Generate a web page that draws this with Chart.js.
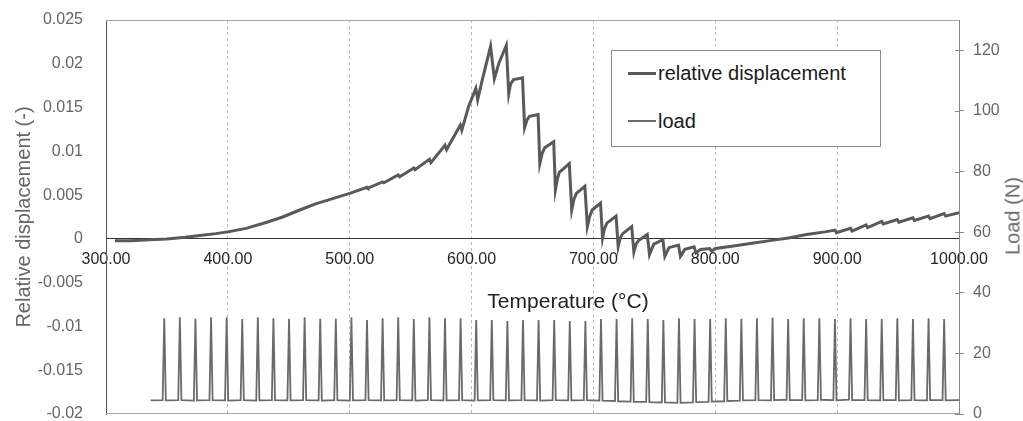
<!DOCTYPE html>
<html>
<head>
<meta charset="utf-8">
<script src="https://cdn.jsdelivr.net/npm/chart.js@4.4.1/dist/chart.umd.min.js"></script>
<style>
  body { margin: 0; background: #fff; }
  #wrap { position: relative; width: 1023px; height: 421px; font-family: "Liberation Sans", Arial, sans-serif; }
  #chart { position: absolute; left: 0; top: 0; }
  .legend { position: absolute; left: 611px; top: 50px; width: 268px; height: 95px; border: 1px solid #8c8c8c; background: #fff; }
  .row { position: absolute; left: 16px; height: 24px; display: flex; align-items: center; font-size: 20px; color: #1a1a1a; white-space: nowrap; }
  .swatch { display: inline-block; width: 28px; margin-right: 2px; }
  .xtitle { position: absolute; left: 568px; top: 301px; transform: translate(-50%, -50%); font-size: 21px; color: #222; white-space: nowrap; }
  .ytitle2 { position: absolute; left: 1013px; top: 216px; transform: translate(-50%, -50%) rotate(-90deg); font-size: 20px; color: #666; white-space: nowrap; }
</style>
</head>
<body>
<div id="wrap">
  <canvas id="chart" width="1023" height="421"></canvas>
  <div class="legend">
    <div class="row" style="top: 10px;"><span class="swatch" style="border-top: 3px solid #595959;"></span>relative displacement</div>
    <div class="row" style="top: 58px;"><span class="swatch" style="border-top: 2px solid #6a6a6a;"></span>load</div>
  </div>
  <div class="xtitle">Temperature (°C)</div>
  <div class="ytitle2">Load (N)</div>
</div>
<script>
const tempTicks = [300, 400, 500, 600, 700, 800, 900, 1000];
const dispTicks = [-0.02, -0.015, -0.01, -0.005, 0, 0.005, 0.01, 0.015, 0.02, 0.025];
const loadTicks = [0, 20, 40, 60, 80, 100, 120];

// relative displacement (-) vs temperature
const dispTemp = [
  307.4, 320, 336, 350, 365, 377, 390, 400, 415, 432, 445, 459, 472, 486, 500,
  514.2, 515, 527, 528, 539.8, 541, 552.6, 553.6, 565.4, 566.6, 578.2, 579.5,
  590.8, 592, 597.5, 603.5, 605, 608.5, 615.6, 618.7, 622.5, 628.5, 630.5,
  632, 634.5, 641.8, 643.5, 645.5, 647.5, 654.6, 656, 658, 660, 667.4, 668.8, 670.5, 672, 680.2,
  682.2, 684, 686, 693, 695, 697, 699, 705.8, 707.5, 709, 711, 718.6, 720.3, 722, 724, 731.4,
  733.2, 735, 737, 744.2, 746, 749.5, 757, 758.6, 762, 769.8, 771.4, 775, 782.6,
  784.2, 788, 795.4, 797, 800, 815, 830, 845, 860, 875, 890, 898.2, 899.4,
  911, 912.2, 923.8, 925, 936.6, 937.8, 949.4, 950.6, 962.2, 963.4, 975,
  976.2, 987.8, 989, 1000
];
const dispValue = [
  -0.0002, -0.0002, -0.0001, 0.0000, 0.0002, 0.0004, 0.0006, 0.0008, 0.0012, 0.0019, 0.0025, 0.0033, 0.0040, 0.0046, 0.0052,
  0.0059, 0.0058, 0.0065, 0.0064, 0.0073, 0.0071, 0.0081, 0.0079, 0.0091, 0.0087, 0.0107, 0.0102,
  0.0130, 0.0124, 0.0151, 0.0172, 0.0159, 0.0180, 0.0220, 0.0183, 0.0201, 0.0221, 0.0166,
  0.0177, 0.0182, 0.0184, 0.0127, 0.0136, 0.0140, 0.0142, 0.0086, 0.0098, 0.0104, 0.0111, 0.0056, 0.0069, 0.0076, 0.0086,
  0.0033, 0.0045, 0.0052, 0.0060, 0.0014, 0.0026, 0.0033, 0.0041, 0.0001, 0.0011, 0.0018, 0.0026, -0.0009, 0.0001, 0.0006, 0.0014,
  -0.0015, -0.0006, -0.0002, 0.0005, -0.0018, -0.0006, -0.0001, -0.0020, -0.0010, -0.0007, -0.0020, -0.0012, -0.0009,
  -0.0016, -0.0012, -0.0011, -0.0014, -0.0011, -0.0008, -0.0005, -0.0002, 0.0001, 0.0005, 0.0008, 0.0010, 0.0007,
  0.0012, 0.0009, 0.0016, 0.0013, 0.0020, 0.0017, 0.0022, 0.0019, 0.0024, 0.0021, 0.0026,
  0.0023, 0.0029, 0.0026, 0.0030
];

// load (N) vs temperature
const loadTemp = [
  336.6,
  346.5, 347.8, 349.1, 359.3, 360.6, 361.9, 372.1, 373.4, 374.7, 384.9, 386.2, 387.5,
  397.7, 399.0, 400.3, 410.5, 411.8, 413.1, 423.3, 424.6, 425.9, 436.1, 437.4, 438.7,
  448.9, 450.2, 451.5, 461.7, 463.0, 464.3, 474.5, 475.8, 477.1, 487.3, 488.6, 489.9,
  500.1, 501.4, 502.7, 512.9, 514.2, 515.5, 525.7, 527.0, 528.3, 538.5, 539.8, 541.1,
  551.3, 552.6, 553.9, 564.1, 565.4, 566.7, 576.9, 578.2, 579.5, 589.7, 591.0, 592.3,
  602.5, 603.8, 605.1, 615.3, 616.6, 617.9, 628.1, 629.4, 630.7, 640.9, 642.2, 643.5,
  653.7, 655.0, 656.3, 666.5, 667.8, 669.1, 679.3, 680.6, 681.9, 692.1, 693.4, 694.7,
  704.9, 706.2, 707.5, 717.7, 719.0, 720.3, 730.5, 731.8, 733.1, 743.3, 744.6, 745.9,
  756.1, 757.4, 758.7, 768.9, 770.2, 771.5, 781.7, 783.0, 784.3, 794.5, 795.8, 797.1,
  807.3, 808.6, 809.9, 820.1, 821.4, 822.7, 832.9, 834.2, 835.5, 845.7, 847.0, 848.3,
  858.5, 859.8, 861.1, 871.3, 872.6, 873.9, 884.1, 885.4, 886.7, 896.9, 898.2, 899.5,
  909.7, 911.0, 912.3, 922.5, 923.8, 925.1, 935.3, 936.6, 937.9, 948.1, 949.4, 950.7,
  960.9, 962.2, 963.5, 973.7, 975.0, 976.3, 986.5, 987.8, 989.1,
  1000
];
const loadValue = [
  4.5,
  4.6, 31.6, 4.5, 4.6, 31.9, 4.6, 4.4, 31.4, 4.5, 4.6, 31.9, 4.6,
  4.5, 31.9, 4.4, 4.6, 31.3, 4.6, 4.4, 31.9, 4.5, 4.6, 31.6, 4.6,
  4.5, 31.4, 4.5, 4.6, 31.9, 4.6, 4.5, 31.4, 4.4, 4.6, 31.4, 4.6,
  4.4, 31.9, 4.5, 4.6, 31.0, 4.6, 4.5, 31.6, 4.5, 4.6, 31.9, 4.6,
  4.5, 31.3, 4.4, 4.6, 31.9, 4.6, 4.5, 31.6, 4.5, 4.6, 31.6, 4.6,
  4.4, 31.0, 4.5, 4.6, 31.0, 4.6, 4.5, 30.7, 4.5, 4.6, 31.0, 4.6,
  4.5, 31.0, 4.4, 4.6, 31.0, 4.6, 4.5, 30.7, 4.5, 4.6, 30.7, 4.6,
  4.4, 31.3, 4.4, 4.3, 31.3, 4.2, 4.1, 31.6, 4.0, 4.0, 31.3, 3.9,
  3.8, 31.0, 3.8, 3.7, 31.6, 3.7, 3.8, 31.3, 3.9, 4.0, 31.3, 4.1,
  4.2, 31.6, 4.3, 4.4, 31.4, 4.5, 4.6, 31.6, 4.6, 4.5, 31.8, 4.6,
  4.7, 31.3, 4.6, 4.6, 31.6, 4.5, 4.6, 31.6, 4.7, 4.6, 31.3, 4.5,
  4.7, 31.6, 4.6, 4.6, 31.3, 4.6, 4.5, 31.3, 4.6, 4.6, 31.6, 4.5,
  4.6, 31.3, 4.6, 4.5, 31.6, 4.6, 4.6, 31.3, 4.5,
  4.6
];

Chart.defaults.font.family = '"Liberation Sans", Arial, sans-serif';

// light frame on top/bottom of the plot + inner half of the right-axis tick marks
const frame = {
  id: "frame",
  beforeDatasetsDraw(chart) {
    const { ctx, chartArea: a } = chart;
    ctx.save();
    ctx.lineWidth = 1;
    ctx.strokeStyle = "#a6a6a6";
    ctx.beginPath();
    ctx.moveTo(a.left, a.top + 0.5);
    ctx.lineTo(a.right, a.top + 0.5);
    ctx.moveTo(a.left, a.bottom - 0.5);
    ctx.lineTo(a.right, a.bottom - 0.5);
    ctx.stroke();
    const s = chart.scales.y1;
    ctx.strokeStyle = "#888";
    ctx.beginPath();
    s.ticks.forEach((t) => {
      const y = Math.round(s.getPixelForValue(t.value)) + 0.5;
      ctx.moveTo(a.right - 4, y);
      ctx.lineTo(a.right, y);
    });
    ctx.stroke();
    ctx.restore();
  },
};

new Chart(document.getElementById("chart"), {
  type: "line",
  data: {
    datasets: [
      {
        label: "relative displacement",
        data: dispTemp.map((t, i) => ({ x: t, y: dispValue[i] })),
        yAxisID: "y",
        borderColor: "#595959",
        borderWidth: 3,
        pointRadius: 0,
        tension: 0,
      },
      {
        label: "load",
        data: loadTemp.map((t, i) => ({ x: t, y: loadValue[i] })),
        yAxisID: "y1",
        borderColor: "#6a6a6a",
        borderWidth: 1.8,
        pointRadius: 0,
        tension: 0,
      },
    ],
  },
  options: {
    responsive: false,
    animation: false,
    layout: { padding: { top: 20, bottom: 7, left: 0, right: 0 } },
    plugins: { legend: { display: false }, tooltip: { enabled: false } },
    scales: {
      x: {
        type: "linear",
        position: { y: 0 },
        min: 300,
        max: 1000,
        afterBuildTicks: (s) => { s.ticks = tempTicks.map((v) => ({ value: v })); },
        grid: { color: "#bdbdbd", drawTicks: false },
        border: { display: true, color: "#333", dash: [3, 3] },
        ticks: {
          callback: (v) => Number(v).toFixed(2),
          color: "#262626",
          font: { size: 16 },
          padding: 11,
          maxRotation: 0,
          autoSkip: false,
        },
      },
      y: {
        position: "left",
        min: -0.02,
        max: 0.025,
        afterBuildTicks: (s) => { s.ticks = dispTicks.map((v) => ({ value: v })); },
        afterFit: (s) => { s.width = 106; s.paddingTop = 0; s.paddingBottom = 0; },
        grid: { display: false },
        border: { display: true, color: "#555" },
        ticks: {
          callback: (v) => String(parseFloat(Number(v).toFixed(3))),
          color: "#666",
          font: { size: 16 },
          padding: 15,
        },
        title: {
          display: true,
          text: "Relative displacement (-)",
          color: "#666",
          font: { size: 20 },
          padding: { top: 12, bottom: 0 },
        },
      },
      y1: {
        position: "right",
        min: 0,
        max: 130,
        afterBuildTicks: (s) => { s.ticks = loadTicks.map((v) => ({ value: v })); },
        afterFit: (s) => { s.width = 64; s.paddingTop = 0; s.paddingBottom = 0; },
        grid: { drawOnChartArea: false, tickLength: 5, color: "#888" },
        border: { display: true, color: "#888" },
        ticks: { color: "#666", font: { size: 16 }, padding: 9 },
      },
    },
  },
  plugins: [frame],
});
</script>
</body>
</html>
